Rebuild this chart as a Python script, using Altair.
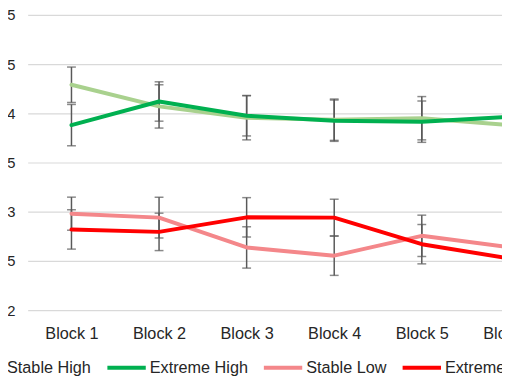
import altair as alt
import pandas as pd

blocks = ["Block 1", "Block 2", "Block 3", "Block 4", "Block 5", "Block 6"]
series_names = ["Stable High", "Extreme High", "Stable Low", "Extreme Low"]

stable_high = [4.29, 4.07, 3.955, 3.935, 3.95, 3.88]
stable_high_err = [0.18, 0.22, 0.225, 0.21, 0.22, 0.20]
extreme_high = [3.88, 4.12, 3.975, 3.925, 3.915, 3.965]
extreme_high_err = [0.21, 0.20, 0.205, 0.21, 0.21, 0.20]
stable_low = [2.98, 2.94, 2.637, 2.553, 2.755, 2.64]
stable_low_err = [0.168, 0.207, 0.21, 0.20, 0.21, 0.20]
extreme_low = [2.82, 2.795, 2.943, 2.94, 2.67, 2.525]
extreme_low_err = [0.20, 0.19, 0.20, 0.187, 0.20, 0.20]

colors = ["#a9d18e", "#00b050", "#f4878a", "#ff0000"]
y_ticks = [2, 2.5, 3, 3.5, 4, 4.5, 5]

values = [stable_high, extreme_high, stable_low, extreme_low]
errs = [stable_high_err, extreme_high_err, stable_low_err, extreme_low_err]

rows = []
for name, vals, ers in zip(series_names, values, errs):
    for b, v, e in zip(blocks, vals, ers):
        rows.append({"block": b, "series": name, "value": v, "lo": v - e, "hi": v + e})
df = pd.DataFrame(rows)

FONT = "Liberation Sans"
TXT = "#262626"

xenc = alt.X(
    "block:N",
    sort=blocks,
    title=None,
    scale=alt.Scale(type="point", range=[0, 534], padding=0.5),
    axis=alt.Axis(labelAngle=0, grid=False, labelPadding=15.5, labelFontSize=16.5),
)
yscale = alt.Scale(domain=[2, 5], nice=False, zero=False)
yaxis = alt.Axis(values=y_ticks, format=".1~f", grid=True, labelPadding=13, labelFontSize=15)

base = alt.Chart(df)

stems = base.mark_rule(color="#595959", strokeWidth=1.5).encode(
    x=xenc,
    y=alt.Y("lo:Q", scale=yscale, axis=yaxis, title=None),
    y2="hi:Q",
)
caps_lo = base.mark_tick(color="#595959", thickness=1.5, size=9).encode(
    x=xenc, y=alt.Y("lo:Q", scale=yscale, axis=yaxis, title=None)
)
caps_hi = base.mark_tick(color="#595959", thickness=1.5, size=9).encode(
    x=xenc, y=alt.Y("hi:Q", scale=yscale, axis=yaxis, title=None)
)
lines = base.mark_line(strokeWidth=4, strokeCap="round", strokeJoin="round").encode(
    x=xenc,
    y=alt.Y("value:Q", scale=yscale, axis=yaxis, title=None),
    color=alt.Color(
        "series:N",
        sort=series_names,
        scale=alt.Scale(domain=series_names, range=colors),
        legend=alt.Legend(
            title=None,
            orient="none",
            legendX=-66,
            legendY=337,
            direction="horizontal",
            symbolType="stroke",
            symbolSize=1521,
            symbolStrokeWidth=4,
            labelFontSize=16.5,
            labelFont=FONT,
            labelColor=TXT,
            columnPadding=8,
            labelOffset=2,
            padding=0,
        ),
    ),
)

chart = (
    alt.layer(stems, caps_lo, caps_hi, lines)
    .properties(
        width=482,
        height=300,
        autosize=alt.AutoSizeParams(type="none"),
        padding={"left": 20, "top": 4, "right": 0, "bottom": 68},
    )
    .configure_view(stroke=None)
    .configure_axis(
        labelFont=FONT,
        labelColor=TXT,
        domain=False,
        ticks=False,
        gridColor="#d9d9d9",
        gridWidth=1.2,
    )
)

chart.save("out.html", embed_options={"renderer": "svg", "actions": False})
